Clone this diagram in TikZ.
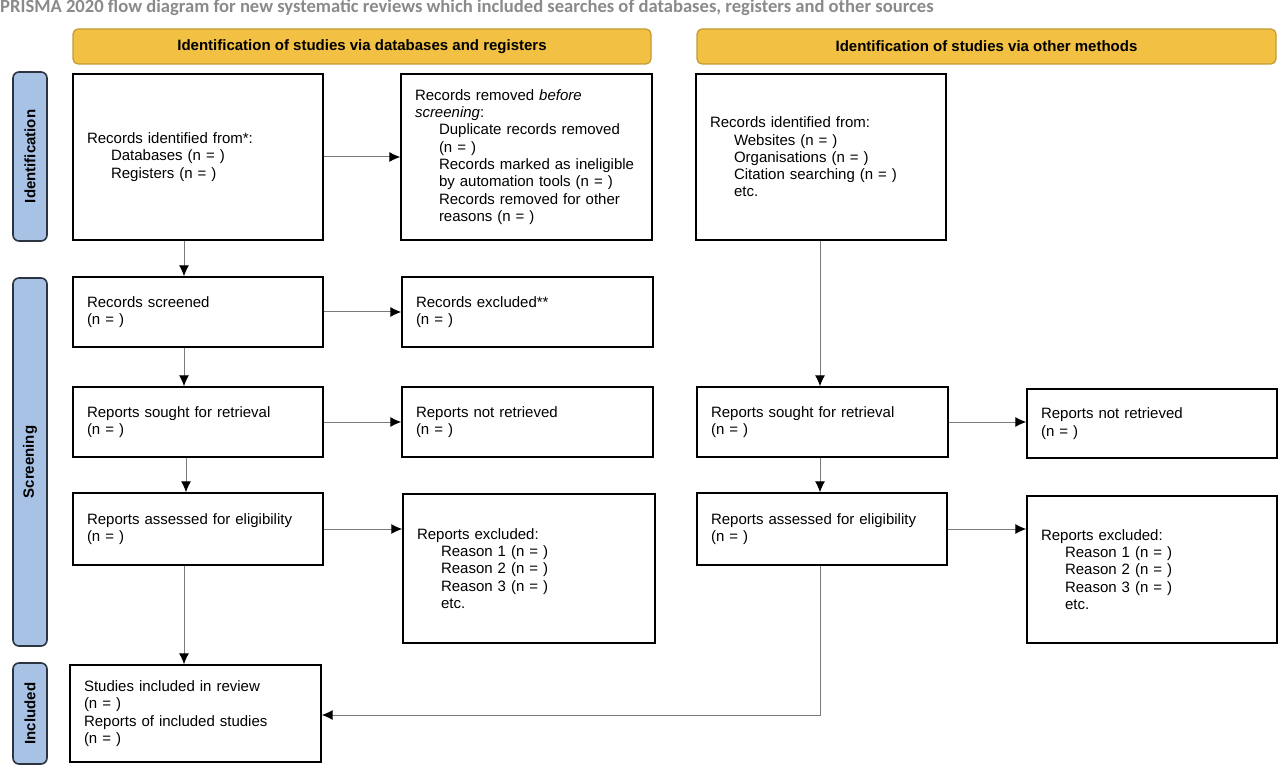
\documentclass[tikz,border=0pt]{standalone}
\usepackage{fontspec}
\setmainfont{Liberation Sans}
\newfontfamily\titlefont{Carlito}
\usetikzlibrary{arrows.meta}
\definecolor{hdrfill}{HTML}{F2C043}
\definecolor{hdrdraw}{HTML}{C49A35}
\definecolor{sidefill}{HTML}{A7C2E4}
\definecolor{sidedraw}{HTML}{2B3440}
\definecolor{titlegray}{HTML}{8A8A8A}
\definecolor{conngray}{HTML}{7A7A7A}
\newcommand{\ind}{\hspace*{24pt}}
\newcommand{\prbox}[6]{%
  \pgfmathsetmacro\prtw{#4-#2-28}%
  \pgfmathsetmacro\prw{#4-#2}%
  \pgfmathsetmacro\prh{#5-#3}%
  \node[box, text width=\prtw pt, minimum width=\prw pt, minimum height=\prh pt] (#1) at ({(#2+#4)/2},{(#3+#5)/2}) {#6};}
\newcommand{\prhdr}[6]{%
  \pgfmathsetmacro\prw{#4-#2}%
  \pgfmathsetmacro\prh{#5-#3}%
  \node[hdr, minimum width=\prw pt, minimum height=\prh pt] (#1) at ({(#2+#4)/2},{(#3+#5)/2}) {#6};}
\newcommand{\prside}[6]{%
  \pgfmathsetmacro\prw{#4-#2}%
  \pgfmathsetmacro\prh{#5-#3}%
  \node[side, minimum width=\prh pt, minimum height=\prw pt] (#1) at ({(#2+#4)/2},{(#3+#5)/2}) {#6};}
\tikzset{
  box/.style={draw=black, line width=1.4pt, fill=white, align=left,
    inner xsep=14pt, inner ysep=0pt, font=\fontsize{15}{17.3}\selectfont},
  hdr/.style={draw=hdrdraw, line width=1.2pt, fill=hdrfill, rounded corners=5pt,
    font=\fontsize{15}{17}\selectfont\bfseries, inner sep=0pt},
  side/.style={draw=sidedraw, line width=1.6pt, fill=sidefill, rounded corners=6pt,
    rotate=90, font=\fontsize{15}{17}\selectfont\bfseries, inner sep=0pt},
  conn/.style={draw=conngray, line width=1pt, -{Latex[length=11pt,width=10pt,black]}},
}
\begin{document}
\begin{tikzpicture}[x=1pt,y=-1pt]
\useasboundingbox (0,0) rectangle (1280,767);
\node[anchor=west, inner sep=0pt, text=titlegray, font=\titlefont\fontsize{18.6}{20}\selectfont\bfseries] (title) at (0,8) {PRISMA 2020 flow diagram for new systematic reviews which included searches of databases, registers and other sources};

\prhdr{h1}{73}{29}{651}{64}{Identification of studies via databases and registers}
\prhdr{h2}{697}{29}{1276}{64}{Identification of studies via other methods}

\prside{s1}{13}{72}{47}{241}{Identification}
\prside{s2}{13}{278}{47}{646}{Screening}
\prside{s3}{13}{663}{47}{764}{Included}

\prbox{A}{73}{74}{323}{240}{Records identified from*:\\\ind Databases (n = )\\\ind Registers (n = )}
\prbox{B}{401}{74}{652}{240}{Records removed \textit{before}\\\textit{screening}:\\\ind Duplicate records removed\\\ind (n = )\\\ind Records marked as ineligible\\\ind by automation tools (n = )\\\ind Records removed for other\\\ind reasons (n = )}
\prbox{C}{696}{74}{946}{240}{Records identified from:\\\ind Websites (n = )\\\ind Organisations (n = )\\\ind Citation searching (n = )\\\ind etc.}
\prbox{D}{73}{277}{323}{347}{Records screened\\(n = )}
\prbox{E}{402}{277}{653}{347}{Records excluded**\\(n = )}
\prbox{F}{73}{387}{323}{457}{Reports sought for retrieval\\(n = )}
\prbox{G}{402}{387}{653}{457}{Reports not retrieved\\(n = )}
\prbox{H}{697}{387}{948}{457}{Reports sought for retrieval\\(n = )}
\prbox{I}{1027}{389}{1277}{458}{Reports not retrieved\\(n = )}
\prbox{J}{73}{493}{323}{565}{Reports assessed for eligibility\\(n = )}
\prbox{K}{403}{494}{655}{643}{Reports excluded:\\\ind Reason 1 (n = )\\\ind Reason 2 (n = )\\\ind Reason 3 (n = )\\\ind etc.}
\prbox{L}{697}{493}{947}{565}{Reports assessed for eligibility\\(n = )}
\prbox{M}{1027}{496}{1277}{643}{Reports excluded:\\\ind Reason 1 (n = )\\\ind Reason 2 (n = )\\\ind Reason 3 (n = )\\\ind etc.}
\prbox{N}{70}{665}{321}{762}{Studies included in review\\(n = )\\Reports of included studies\\(n = )}

\draw[conn] (A.east) -- (B.west);
\draw[conn] (A.south -| 184,0) -- (D.north -| 184,0);
\draw[conn] (D.east) -- (E.west);
\draw[conn] (D.south -| 184,0) -- (F.north -| 184,0);
\draw[conn] (F.east) -- (G.west);
\draw[conn] (F.south -| 186,0) -- (J.north -| 186,0);
\draw[conn] (J.east) -- (J.east -| K.west);
\draw[conn] (J.south -| 184,0) -- (N.north -| 184,0);
\draw[conn] (C.south -| 820,0) -- (H.north -| 820,0);
\draw[conn] (H.east) -- (H.east -| I.west);
\draw[conn] (H.south -| 820,0) -- (L.north -| 820,0);
\draw[conn] (L.east) -- (L.east -| M.west);
\coordinate (bend) at (820,715);
\draw[conn] (L.south -| bend) -- (bend) -- (bend -| N.east);
\end{tikzpicture}
\end{document}
